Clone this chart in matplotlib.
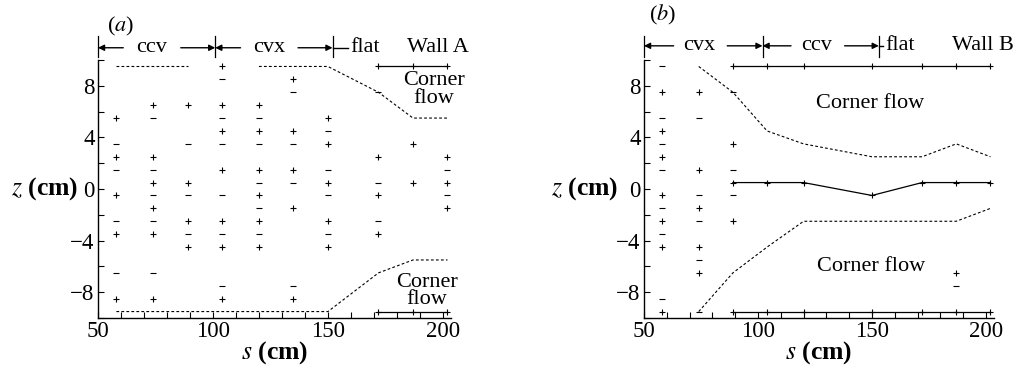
import matplotlib
matplotlib.use('Agg')
import matplotlib.pyplot as plt
from matplotlib.ticker import MultipleLocator, FixedLocator

plt.rcParams['font.family'] = ['Liberation Serif', 'DejaVu Serif']
plt.rcParams['mathtext.fontset'] = 'stix'

# ---- data ----
Z_TICKS = [-8, -4, 0, 4, 8]
Z_TICK_LABELS = ['\u22128', '\u22124', '0', '4', '8']
S_TICKS = [50, 100, 150, 200]

# wall A: measurement stations and signs of the measured quantity
A_S = [58, 74, 89, 104, 120, 135, 150, 172, 187, 202]
A_PLUS = [
    [5.5, 2.5, -0.5, -3.5, -8.5],
    [6.5, 2.5, 0.5, -1.5, -3.5, -8.5],
    [6.5, 0.5, -2.5, -4.5],
    [9.5, 6.5, 4.5, 1.5, -2.5, -4.5, -8.5],
    [6.5, 4.5, 1.5, -0.5, -2.5, -4.5],
    [8.5, 4.5, 1.5, -1.5, -8.5],
    [5.5, 3.5, 0.5, -2.5, -4.5],
    [2.5, -0.5, -3.5],
    [3.5, 0.5],
    [2.5, 0.5, -1.5],
]
A_MINUS = [
    [3.5, 1.5, -2.5, -6.5],
    [5.5, 1.5, -0.5, -2.5, -6.5],
    [3.5, -0.5, -3.5],
    [8.5, 5.5, 3.5, -0.5, -3.5, -7.5],
    [5.5, 3.5, 0.5, -1.5, -3.5],
    [7.5, 3.5, 0.5, -7.5],
    [4.5, 1.5, -0.5, -3.5],
    [7.5, 0.5, -2.5],
    [],
    [1.5, -0.5],
]
A_EDGE_S = [172, 187, 202]
A_EDGE_TOP = [9.5, 9.5, 9.5]
A_EDGE_BOT = [-9.5, -9.5, -9.5]
A_UP1_S = [58, 89]
A_UP1_Z = [9.5, 9.5]
A_UP2_S = [120, 150, 172, 187, 202]
A_UP2_Z = [9.5, 9.5, 7.5, 5.5, 5.5]
A_LOW_S = [58, 150, 172, 187, 202]
A_LOW_Z = [-9.5, -9.5, -6.5, -5.5, -5.5]

# wall B
B_S = [58, 74, 89, 187]
B_PLUS = [
    [7.5, 4.5, 2.5, -0.5, -2.5, -4.5, -9.5],
    [7.5, 1.5, -1.5, -4.5, -6.5],
    [3.5, -2.5],
    [-6.5],
]
B_MINUS = [
    [9.5, 5.5, 3.5, 1.5, -1.5, -3.5, -8.5],
    [5.5, -0.5, -2.5, -5.5, -9.5],
    [7.5, 1.5, -0.5],
    [-7.5],
]
B_LINE_S = [89, 104, 120, 150, 172, 187, 202]
B_TOP_Z = [9.5, 9.5, 9.5, 9.5, 9.5, 9.5, 9.5]
B_MID_Z = [0.5, 0.5, 0.5, -0.5, 0.5, 0.5, 0.5]
B_BOT_Z = [-9.5, -9.5, -9.5, -9.5, -9.5, -9.5, -9.5]
B_BND_S = [74, 89, 104, 120, 150, 172, 187, 202]
B_UP_Z = [9.5, 7.5, 4.5, 3.5, 2.5, 2.5, 3.5, 2.5]
B_LOW_Z = [-9.5, -6.5, -4.5, -2.5, -2.5, -2.5, -2.5, -1.5]

# wall sections along s
A_BOUNDS = [50, 101, 152]
A_SECTIONS = ['ccv', 'cvx']
B_BOUNDS = [50, 102, 153]
B_SECTIONS = ['cvx', 'ccv']

FS = 16
K = 'k'


def style_axes(ax):
    ax.set_xlim(50, 203.5)
    ax.set_ylim(-10, 10)
    for side in ('top', 'right'):
        ax.spines[side].set_visible(False)
    for side in ('left', 'bottom'):
        ax.spines[side].set_linewidth(1.0)
    ax.set_xticks(S_TICKS)
    ax.xaxis.set_minor_locator(MultipleLocator(10))
    ax.set_yticks(Z_TICKS)
    ax.set_yticklabels(Z_TICK_LABELS)
    ax.yaxis.set_minor_locator(FixedLocator([-10, -6, -2, 2, 6, 10]))
    ax.tick_params(which='both', direction='in', length=4, width=0.8,
                   labelsize=16.5, pad=2.5)
    ax.set_xlabel(r'$s$ (cm)', fontsize=18.5, fontweight='bold')
    ax.xaxis.label.set_va('center')
    ax.xaxis.set_label_coords(0.5, -0.135)
    ax.set_ylabel(r'$z$ (cm)', fontsize=18.5, fontweight='bold',
                  rotation=0, ha='right', va='center')


def plot_signs(ax, cols, plus, minus):
    for s, zp, zm in zip(cols, plus, minus):
        ax.plot([s] * len(zp), zp, ls='none', marker='+', ms=4.5, mew=0.8, color=K)
        ax.plot([s] * len(zm), zm, ls='none', marker='_', ms=4.5, mew=0.8, color=K)


def dashed(ax, s, z):
    ax.plot(s, z, ls=(0, (2.5, 2)), lw=0.8, color=K)


def solid_pts(ax, s, z):
    ax.plot(s, z, ls='-', lw=0.9, color=K, marker='+', ms=4.5, mew=0.8)


def section_header(ax, bounds, names, zrow, tail_l, tail_r, flat_x, wall_x, wall):
    for b in bounds:
        ax.plot([b, b], [10.2, 11.9], color=K, lw=0.9, clip_on=False)
    arrow = dict(arrowstyle='-|>', lw=1.0, color=K, mutation_scale=9,
                 shrinkA=0, shrinkB=0)
    for name, lo, hi in zip(names, bounds[:-1], bounds[1:]):
        c = (lo + hi) / 2 - 2
        ax.text(c, zrow, name, fontsize=FS, ha='center', va='center')
        ax.annotate('', xy=(lo, zrow), xytext=(c - tail_l, zrow),
                    arrowprops=arrow, annotation_clip=False)
        ax.annotate('', xy=(hi, zrow), xytext=(c + tail_r, zrow),
                    arrowprops=arrow, annotation_clip=False)
    ax.plot([bounds[-1], flat_x - 1], [zrow, zrow], color=K, lw=1.0, clip_on=False)
    ax.text(flat_x, zrow, 'flat', fontsize=FS, ha='left', va='center')
    ax.text(wall_x, zrow, wall, fontsize=FS, ha='center', va='center')


fig = plt.figure(figsize=(10.26, 3.7), dpi=100)
ax_a = fig.add_axes([0.0955, 0.1405, 0.344, 0.6973])
ax_b = fig.add_axes([0.6277, 0.1405, 0.341, 0.6973])

# (a) wall A
style_axes(ax_a)
ax_a.yaxis.set_label_coords(-0.057, 0.5)
plot_signs(ax_a, A_S, A_PLUS, A_MINUS)
solid_pts(ax_a, A_EDGE_S, A_EDGE_TOP)
solid_pts(ax_a, A_EDGE_S, A_EDGE_BOT)
dashed(ax_a, A_UP1_S, A_UP1_Z)
dashed(ax_a, A_UP2_S, A_UP2_Z)
dashed(ax_a, A_LOW_S, A_LOW_Z)
ax_a.text(196, 7.7, 'Corner\nflow', fontsize=FS, ha='center', va='center',
          linespacing=0.9)
ax_a.text(193, -7.9, 'Corner\nflow', fontsize=FS, ha='center', va='center',
          linespacing=0.9)
section_header(ax_a, A_BOUNDS, A_SECTIONS, 10.95, 12.5, 12.5, 159.6, 198, 'Wall A')
ax_a.text(60, 12.6, r'($\it{a}$)', fontsize=FS, ha='center', va='center')

# (b) wall B
style_axes(ax_b)
ax_b.yaxis.set_label_coords(-0.074, 0.5)
plot_signs(ax_b, B_S, B_PLUS, B_MINUS)
solid_pts(ax_b, B_LINE_S, B_TOP_Z)
solid_pts(ax_b, B_LINE_S, B_MID_Z)
solid_pts(ax_b, B_LINE_S, B_BOT_Z)
dashed(ax_b, B_BND_S, B_UP_Z)
dashed(ax_b, B_BND_S, B_LOW_Z)
ax_b.text(149, 6.6, 'Corner flow', fontsize=FS, ha='center', va='center')
ax_b.text(149.5, -6.0, 'Corner flow', fontsize=FS, ha='center', va='center')
section_header(ax_b, B_BOUNDS, B_SECTIONS, 11.1, 11, 12.5, 155.7, 198.5, 'Wall B')
ax_b.text(58, 13.5, r'($\it{b}$)', fontsize=FS, ha='center', va='center')

fig.savefig('out.png', dpi=100)
